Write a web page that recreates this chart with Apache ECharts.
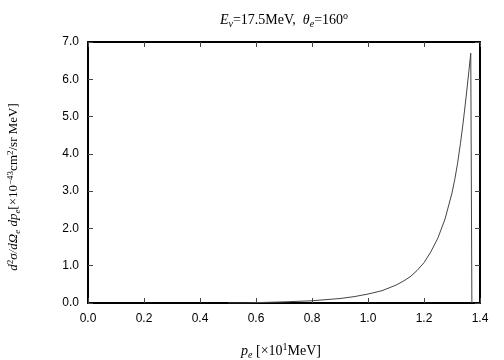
<!DOCTYPE html>
<html>
<head>
<meta charset="utf-8">
<script src="https://cdn.jsdelivr.net/npm/echarts@6/dist/echarts.min.js"></script>
<style>
  html, body { margin: 0; padding: 0; background: #fff; }
  #chart { width: 504px; height: 360px; }
</style>
</head>
<body>
<div id="chart"></div>
<script>
// momentum p_e [x10 MeV]
var pValues = [0.50, 0.56, 0.60, 0.70, 0.80, 0.90, 0.95, 1.00, 1.05, 1.10, 1.125, 1.15, 1.175, 1.20, 1.225, 1.25, 1.275, 1.30, 1.31, 1.32, 1.33, 1.34, 1.35, 1.36, 1.367, 1.371];
// cross section [x10^-43 cm^2/sr MeV]
var sigmaValues = [0.0, 0.0, 0.01, 0.03, 0.06, 0.12, 0.17, 0.24, 0.33, 0.48, 0.58, 0.70, 0.87, 1.08, 1.38, 1.75, 2.25, 2.95, 3.32, 3.75, 4.27, 4.85, 5.50, 6.20, 6.70, 0.0];
var xTicks = [0.0, 0.2, 0.4, 0.6, 0.8, 1.0, 1.2, 1.4];
var yTicks = [0.0, 1.0, 2.0, 3.0, 4.0, 5.0, 6.0, 7.0];

var seriesData = [];
for (var i = 0; i < pValues.length; i++) {
  seriesData.push([pValues[i], sigmaValues[i]]);
}

var serif = 'Liberation Serif';
var sans = 'Liberation Sans';

var chart = echarts.init(document.getElementById('chart'));

function axisBase(showLabels) {
  return {
    type: 'value',
    axisLine: { show: true, onZero: false, lineStyle: { color: '#000', width: 2 } },
    axisTick: { show: true, inside: true, length: 5, lineStyle: { color: '#444', width: 1 } },
    splitLine: { show: false },
    axisLabel: {
      show: showLabels,
      color: '#000',
      fontFamily: sans,
      fontSize: 12,
      formatter: function (v) { return v.toFixed(1); }
    }
  };
}

var xBottom = axisBase(true);
xBottom.min = xTicks[0]; xBottom.max = xTicks[xTicks.length - 1]; xBottom.interval = 0.2;
xBottom.position = 'bottom';
xBottom.axisLabel.margin = 10;
var xTop = axisBase(false);
xTop.min = xTicks[0]; xTop.max = xTicks[xTicks.length - 1]; xTop.interval = 0.2;
xTop.position = 'top';
var yLeft = axisBase(true);
yLeft.min = yTicks[0]; yLeft.max = yTicks[yTicks.length - 1]; yLeft.interval = 1;
yLeft.position = 'left';
yLeft.axisLabel.margin = 9;
var yRight = axisBase(false);
yRight.min = yTicks[0]; yRight.max = yTicks[yTicks.length - 1]; yRight.interval = 1;
yRight.position = 'right';

function styles(size) {
  return {
    i: { fontFamily: serif, fontStyle: 'italic', fontSize: size, color: '#000' },
    r: { fontFamily: serif, fontSize: size, color: '#000' },
    s: { fontFamily: serif, fontStyle: 'italic', fontSize: size - 4, color: '#000', verticalAlign: 'bottom' },
    p: { fontFamily: serif, fontSize: size - 4, color: '#000', verticalAlign: 'top' }
  };
}

chart.setOption({
  animation: false,
  backgroundColor: '#fff',
  grid: { left: 88, right: 24, top: 42, bottom: 57 },
  xAxis: [xBottom, xTop],
  yAxis: [yLeft, yRight],
  series: [{
    type: 'line',
    xAxisIndex: 0,
    yAxisIndex: 0,
    data: seriesData,
    showSymbol: false,
    smooth: false,
    lineStyle: { color: '#444', width: 1 }
  }],
  graphic: [
    {
      type: 'text',
      x: 284, y: 20,
      style: {
        text: '{i|E}{s|ν}{r|=17.5MeV,  }{i|θ}{s|e}{r|=160}{p|o}',
        align: 'center',
        verticalAlign: 'middle',
        rich: styles(14),
        lineHeight: 18
      }
    },
    {
      type: 'text',
      x: 14, y: 187,
      rotation: Math.PI / 2,
      style: {
        text: '{i|d}{p|2}{i|σ/dΩ}{s|e}{i| dp}{s|e}{r|[×10}{p|−43}{r|cm}{p|2}{r|/sr MeV]}',
        align: 'center',
        verticalAlign: 'middle',
        rich: styles(13),
        lineHeight: 16
      }
    },
    {
      type: 'text',
      x: 281, y: 351,
      style: {
        text: '{i|p}{s|e}{r| [×10}{p|1}{r|MeV]}',
        align: 'center',
        verticalAlign: 'middle',
        rich: styles(14),
        lineHeight: 18
      }
    }
  ]
});
</script>
</body>
</html>
